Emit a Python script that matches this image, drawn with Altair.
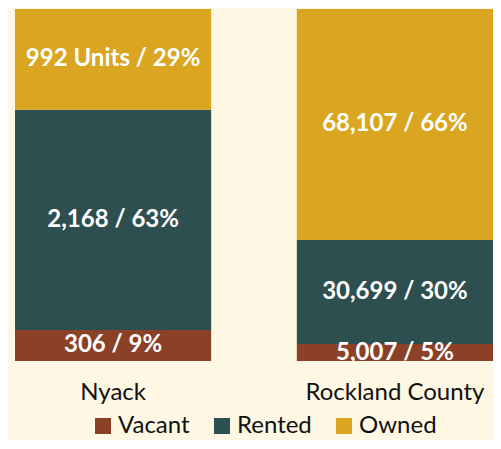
import altair as alt
import pandas as pd

locations = ["Nyack", "Nyack", "Nyack", "Rockland County", "Rockland County", "Rockland County"]
tenure = ["Vacant", "Rented", "Owned", "Vacant", "Rented", "Owned"]
order = [0, 1, 2, 0, 1, 2]
units = [306, 2168, 992, 5007, 30699, 68107]
labels = ["306 / 9%", "2,168 / 63%", "992 Units / 29%", "5,007 / 5%", "30,699 / 30%", "68,107 / 66%"]

df = pd.DataFrame({"loc": locations, "tenure": tenure, "ord": order, "units": units, "label": labels})

FONT = "Lato"
BG = "#FEF7E3"
colors = ["#8B4128", "#2E4F50", "#DAA520"]

base = alt.Chart(df).transform_stack(
    stack="units", groupby=["loc"], as_=["y0", "y1"], offset="normalize",
    sort=[alt.SortField("ord", order="ascending")]
).transform_calculate(mid="(datum.y0 + datum.y1) / 2")

x = alt.X("loc:N", title=None, sort=["Nyack", "Rockland County"],
          scale=alt.Scale(paddingInner=0.304, paddingOuter=0),
          axis=alt.Axis(labelAngle=0, ticks=False, domain=False, labelFontSize=24,
                        labelFont=FONT, labelColor="#111111", labelPadding=19))

bars = base.mark_bar().encode(
    x=x,
    y=alt.Y("y0:Q", scale=alt.Scale(domain=[0, 1]), axis=None),
    y2="y1:Q",
    color=alt.Color("tenure:N", scale=alt.Scale(domain=["Vacant", "Rented", "Owned"], range=colors),
                    legend=alt.Legend(title=None, orient="none", direction="horizontal",
                                      legendX=76, legendY=405, symbolType="square", symbolSize=256,
                                      symbolStrokeWidth=0, labelFontSize=24, labelFont=FONT,
                                      labelColor="#111111", labelOffset=3, columnPadding=20)),
)

text = base.mark_text(color="white", fontWeight="bold", fontSize=24, font=FONT).encode(
    x=x,
    y=alt.Y("mid:Q", scale=alt.Scale(domain=[0, 1]), axis=None),
    text="label:N",
)

chart = (bars + text).properties(
    width=478, height=352, background=BG,
    padding={"left": 7, "top": 1, "right": 0, "bottom": 79},
    autosize=alt.AutoSizeParams(type="none"),
).configure_view(stroke=None)

chart.save("out.html", embed_options={"renderer": "svg", "actions": False})
